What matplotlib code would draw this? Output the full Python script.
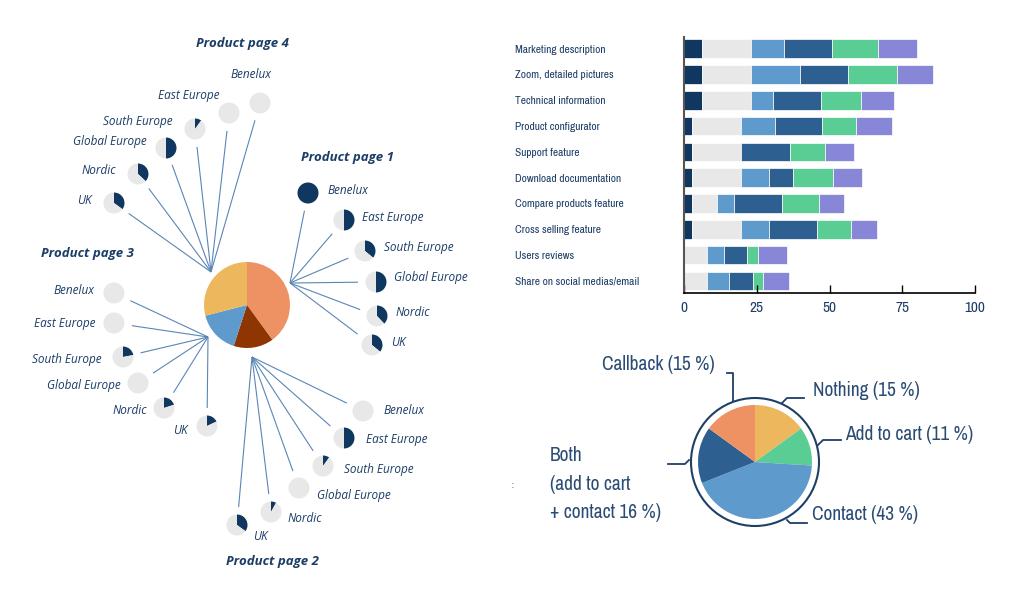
import matplotlib.pyplot as plt
from matplotlib import font_manager

W, H = 1024, 600

# ---- data -------------------------------------------------------------
regions = ["Benelux", "East Europe", "South Europe", "Global Europe", "Nordic", "UK"]
page_names = ["Product page 1", "Product page 2", "Product page 3", "Product page 4"]
page_share = [40, 15, 16, 29]
page1_share = [100, 50, 36, 50, 38, 36]
page2_share = [0, 50, 10, 0, 8, 35]
page3_share = [0, 0, 22, 0, 20, 18]
page4_share = [0, 0, 10, 50, 37, 35]

features = ["Marketing description", "Zoom, detailed pictures", "Technical information",
            "Product configurator", "Support feature", "Download documentation",
            "Compare products feature", "Cross selling feature", "Users reviews",
            "Share on social medias/email"]
seg_a = [6.3, 6.3, 6.3, 2.9, 2.9, 2.9, 2.9, 2.9, 0, 0]
seg_b = [16.8, 16.8, 16.8, 16.8, 16.8, 16.8, 8.6, 16.8, 8.0, 8.0]
seg_c = [11.1, 16.9, 7.4, 11.5, 0, 9.4, 5.7, 9.4, 5.7, 7.3]
seg_d = [16.6, 16.2, 16.5, 16.2, 16.7, 8.2, 16.5, 16.5, 7.9, 8.4]
seg_e = [15.7, 16.9, 13.9, 11.7, 12.1, 13.9, 12.7, 11.8, 4.0, 3.6]
seg_f = [13.4, 12.4, 11.2, 12.4, 9.8, 9.9, 8.5, 8.8, 9.7, 8.8]
x_ticks = [0, 25, 50, 75, 100]

outcome_share = [15, 11, 43, 16, 15]
outcome_labels = ["Nothing (15 %)", "Add to cart (11 %)", "Contact (43 %)",
                  "Both\n(add to cart\n+ contact 16 %)", "Callback (15 %)"]

# ---- colours / fonts --------------------------------------------------
NAVY = "#0F3760"
GRAY = "#E8E8E8"
LBLUE = "#5E9ACB"
MBLUE = "#2D5F91"
GREEN = "#5ACD94"
PURPLE = "#8886D6"
ORANGE = "#EE9163"
BROWN = "#8E3502"
YELLOW = "#EDB75E"
TXT = "#1B3D66"
LINE = "#5A86B5"
OPEN = ["Open Sans", "DejaVu Sans"]


def pick_narrow():
    # look for any condensed / narrow face installed, else plain Roboto
    fonts = font_manager.fontManager.ttflist
    for f in fonts:
        if ("Narrow" in f.name or "Condensed" in f.name) and f.style == "normal":
            return f.name, "normal", 1.0
    for f in fonts:
        if f.stretch in ("condensed", "semi-condensed") and f.style == "normal":
            return f.name, f.stretch, 1.0
    return "Roboto", "normal", 0.85


NARROW_NAME, NARROW_STRETCH, NSCALE = pick_narrow()
NARROW = [NARROW_NAME, "DejaVu Sans"]

# ---- layout (image pixel coords) --------------------------------------
main_center, main_r = (247, 305), 43
small_r = 10.5
pages = [
    dict(hub=(290, 283), title=(347, 158),
         pies=[(308, 193), (344, 220), (365, 251), (376, 282), (377, 316), (372, 345)],
         labels=[(327, 190), (362, 217), (384, 247), (394, 278), (396, 313), (391, 342)],
         ha="left"),
    dict(hub=(252, 357), title=(272, 561),
         pies=[(363, 411), (344, 438), (323, 466), (299, 488), (271, 512), (237, 525)],
         labels=[(384, 410), (366, 440), (344, 470), (317, 495), (288, 518), (253, 537)],
         ha="left"),
    dict(hub=(208, 337), title=(87, 254),
         pies=[(114, 293), (114, 323), (123, 357), (138, 383), (164, 408), (207, 426)],
         labels=[(94, 291), (95, 323), (102, 359), (121, 385), (147, 411), (188, 430)],
         ha="right"),
    dict(hub=(211, 272), title=(242, 44),
         pies=[(260, 103), (229, 113), (195, 129), (166, 148), (138, 174), (114, 203)],
         labels=[(271, 75), (220, 96), (173, 121), (147, 142), (116, 170), (92, 201)],
         ha="right"),
]
page_values = [page1_share, page2_share, page3_share, page4_share]

fig = plt.figure(figsize=(W / 100, H / 100), dpi=100)
ax = fig.add_axes([0, 0, 1, 1])


def fy(y):
    return H - y


# central pie
ax.pie(page_share, colors=[ORANGE, BROWN, LBLUE, YELLOW], center=(main_center[0], fy(main_center[1])),
       radius=main_r, startangle=90, counterclock=False, frame=True,
       wedgeprops=dict(linewidth=0))

for name, lay, vals in zip(page_names, pages, page_values):
    hx, hy = lay["hub"]
    for (px, py), (lx, ly), region, v in zip(lay["pies"], lay["labels"], regions, vals):
        dx, dy = px - hx, py - hy
        d = (dx ** 2 + dy ** 2) ** 0.5
        ex, ey = px - dx / d * 18, py - dy / d * 18
        ax.plot([hx, ex], [fy(hy), fy(ey)], color=LINE, lw=0.8, solid_capstyle="butt")
        ax.pie([v, 100 - v], colors=[NAVY, GRAY], center=(px, fy(py)), radius=small_r,
               startangle=90, counterclock=False, frame=True, wedgeprops=dict(linewidth=0))
        ax.text(lx, fy(ly), region, ha=lay["ha"], va="center", fontsize=8.5,
                style="italic", color=TXT, family=OPEN)
    tx, ty = lay["title"]
    ax.text(tx, fy(ty), name, ha="center", va="center", fontsize=9.5, style="italic",
            fontweight="bold", color=TXT, family=OPEN)

# outcome pie
oc, orad = (755, 462), 57
ax.pie(outcome_share, colors=[YELLOW, GREEN, LBLUE, MBLUE, ORANGE], center=(oc[0], fy(oc[1])),
       radius=orad, startangle=90, counterclock=False, frame=True, wedgeprops=dict(linewidth=0))
ring = plt.Circle((oc[0], fy(oc[1])), 64, fill=False, color="#1E3F66", lw=1.5)
ax.add_patch(ring)

leaders = [
    [(782, 403), (787, 398), (804, 398)],
    [(818, 445), (823, 440), (841, 440)],
    [(787, 520), (790, 523), (807, 523)],
    [(689, 460), (685, 464), (668, 464)],
    [(727, 373), (733, 373), (733, 401)],
]
label_pos = [(813, 390), (845, 435), (812, 514), (550, 484), (602, 365)]
for pts, (lx, ly), lab in zip(leaders, label_pos, outcome_labels):
    ax.plot([p[0] for p in pts], [fy(p[1]) for p in pts], color="#1E3F66", lw=1.3)
    ax.text(lx, fy(ly), lab, ha="left", va="center", fontsize=14 * NSCALE, color="#2A4C74",
            family=NARROW, fontstretch=NARROW_STRETCH, linespacing=1.62)
ax.text(513, fy(485), ":", ha="center", va="center", fontsize=8, color="#777777")

ax.set_xlim(0, W)
ax.set_ylim(0, H)
ax.set_aspect("auto")
ax.axis("off")

# ---- stacked bar chart ------------------------------------------------
bx = fig.add_axes([684 / W, 1 - 293 / H, 291 / W, 256 / H])
rows = list(range(len(features)))
left = [0] * len(features)
for seg, col in zip([seg_a, seg_b, seg_c, seg_d, seg_e, seg_f],
                    [NAVY, GRAY, LBLUE, MBLUE, GREEN, PURPLE]):
    bx.barh(rows, seg, left=left, height=0.72, color=col, edgecolor="white", linewidth=0.5)
    left = [a + b for a, b in zip(left, seg)]

bx.set_ylim(9.47, -0.45)
bx.set_xlim(0, 100)
bx.set_yticks(rows)
bx.set_yticklabels(features, ha="left", fontsize=8.2 * NSCALE, color=TXT,
                   family=NARROW, fontstretch=NARROW_STRETCH)
bx.tick_params(axis="y", length=0, pad=122)
bx.set_xticks(x_ticks)
bx.set_xticklabels([str(t) for t in x_ticks], fontsize=11 * NSCALE, color=TXT,
                   family=NARROW, fontstretch=NARROW_STRETCH)
bx.tick_params(axis="x", direction="in", length=6, width=1, pad=6)
for s in ["top", "right"]:
    bx.spines[s].set_visible(False)
bx.spines["left"].set_color("#555555")
bx.spines["left"].set_linewidth(1.5)
bx.spines["bottom"].set_color("black")
bx.spines["bottom"].set_linewidth(1.2)

fig.savefig("out.png", dpi=100)
